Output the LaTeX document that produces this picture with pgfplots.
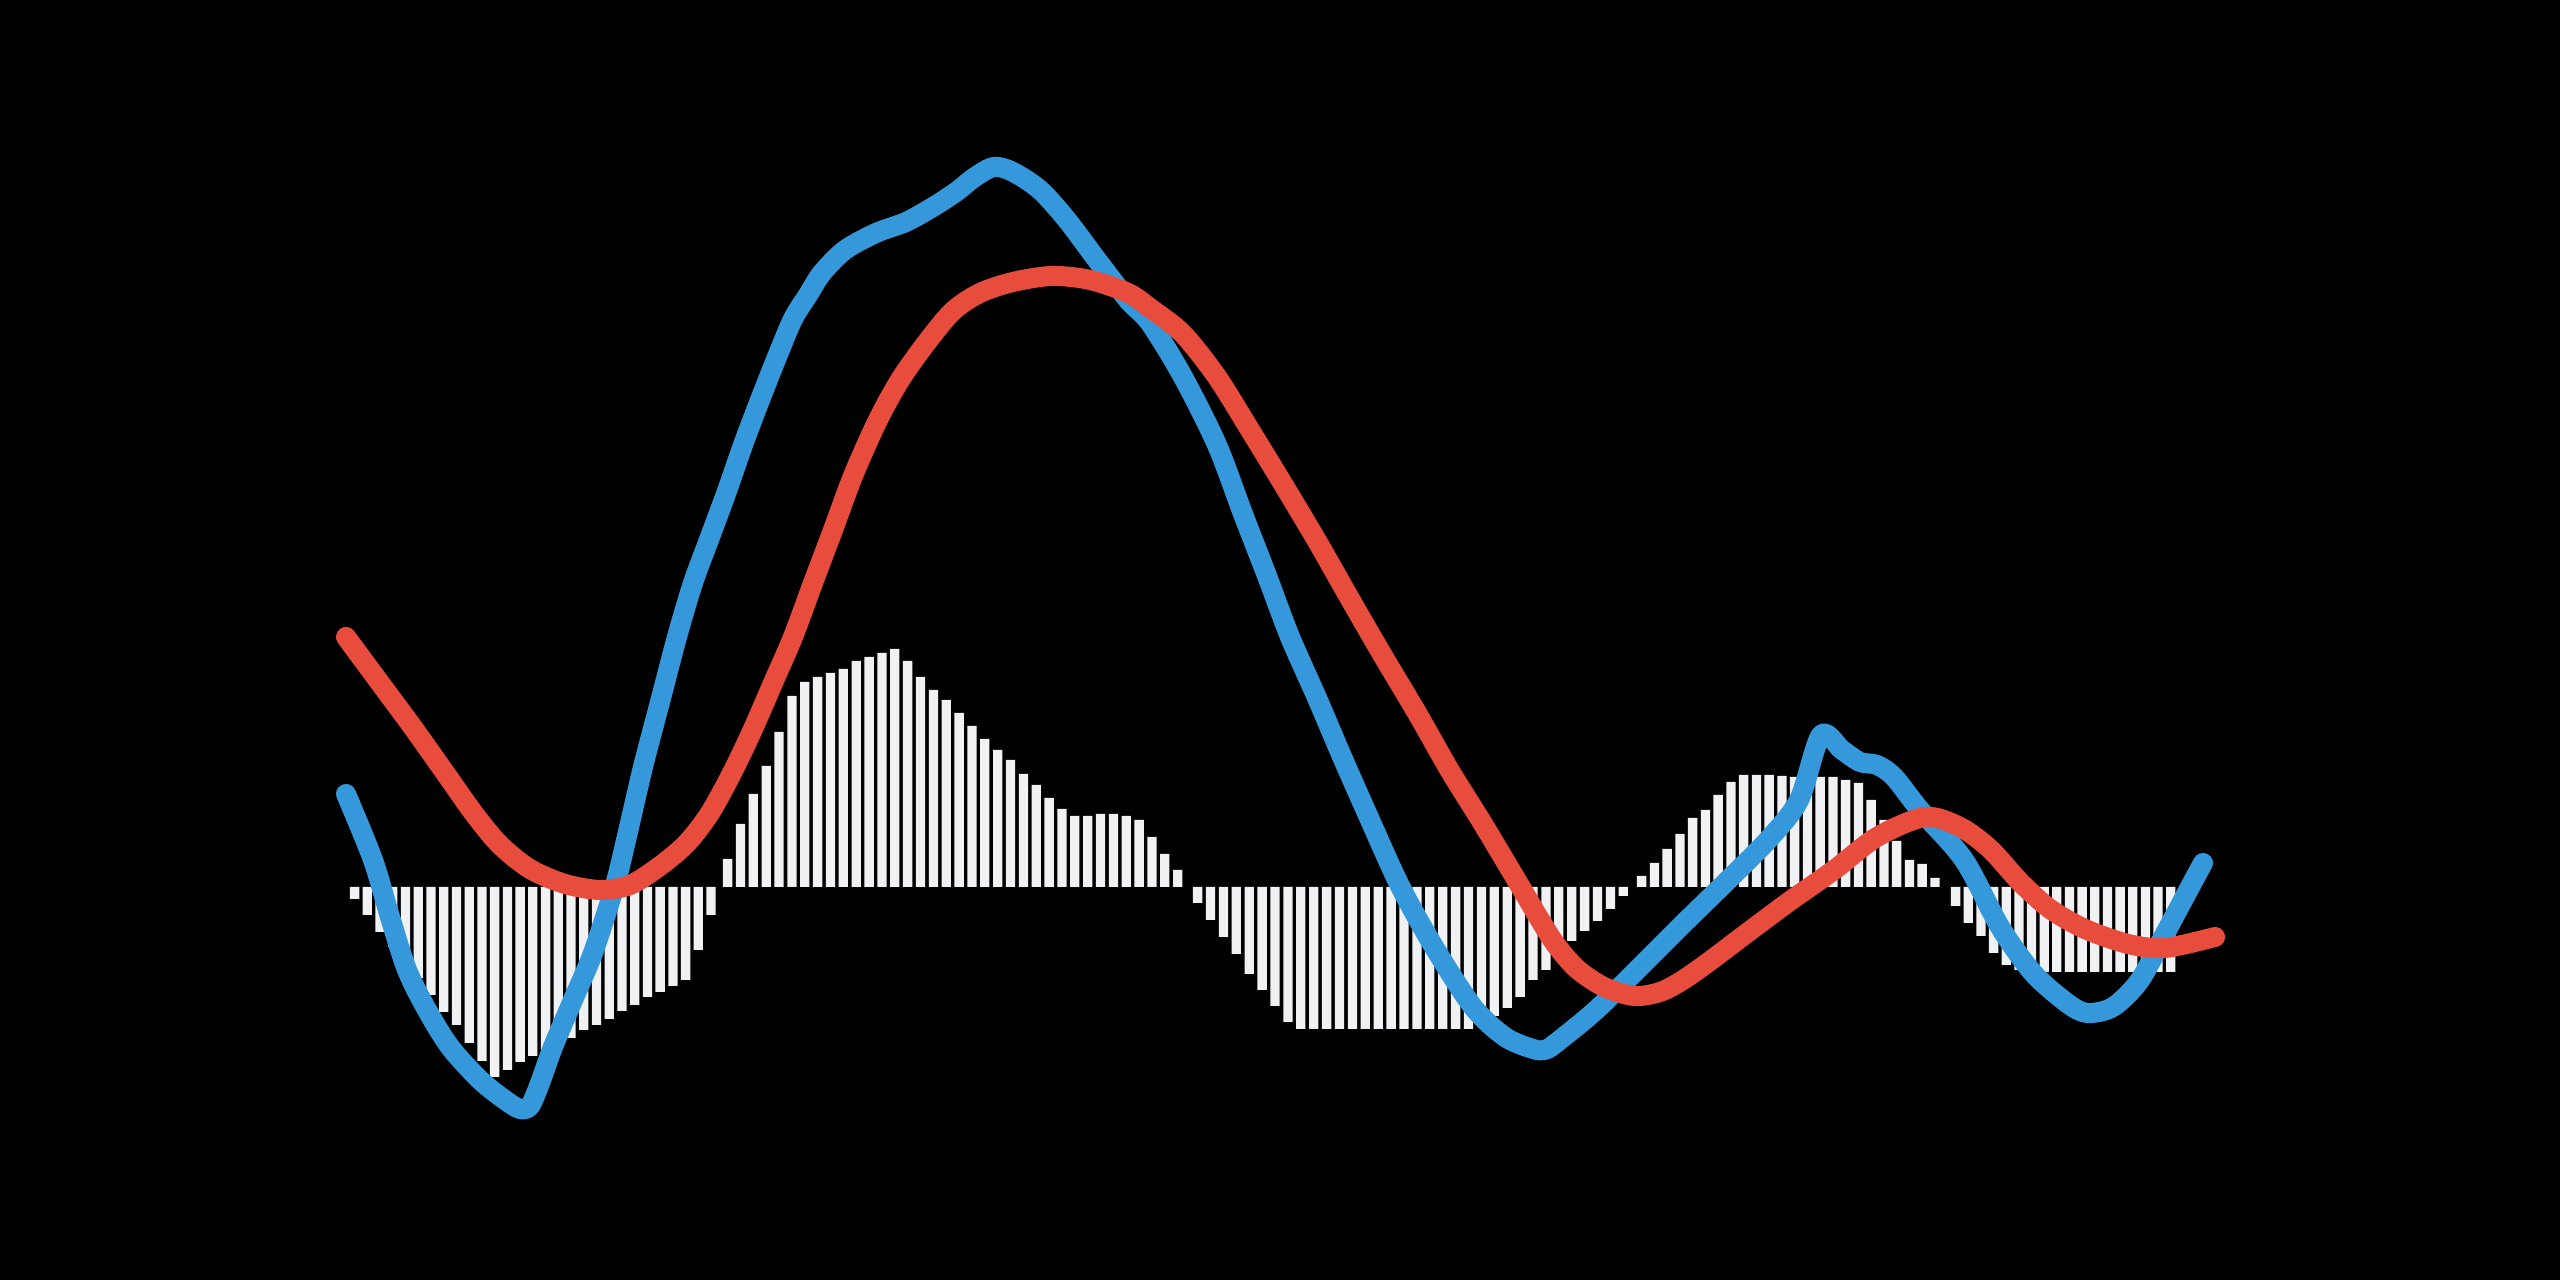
\documentclass[border=0pt]{standalone}
\usepackage{pgfplots}
\pgfplotsset{compat=1.18}
\definecolor{macdblue}{RGB}{52,152,219}
\definecolor{macdred}{RGB}{231,76,60}
\definecolor{histbar}{RGB}{240,241,243}
\begin{document}
\begin{tikzpicture}
\useasboundingbox (0,0) rectangle (25.6cm,12.8cm);
\fill[black] (0,0) rectangle (25.6cm,12.8cm);
\begin{axis}[
  at={(0,0)}, anchor=south west,
  width=25.6cm, height=12.8cm,
  scale only axis,
  axis lines=none,
  xtick=\empty, ytick=\empty,
  xmin=0, xmax=2560,
  ymin=-393, ymax=887,
  clip=true]
% histogram
\addplot[ybar, bar width=9.3, bar shift=0pt, fill=histbar, draw=none] coordinates {
 (354.6,-12) (367.3,-28) (380.1,-45) (392.8,-60) (405.5,-75) (418.3,-91) (431.0,-108)
 (443.7,-125) (456.4,-138) (469.2,-156) (481.9,-174) (494.6,-190) (507.4,-183) (520.1,-175)
 (532.8,-169) (545.6,-163) (558.3,-157) (571.0,-151) (583.7,-143) (596.5,-138) (609.2,-132)
 (621.9,-124) (634.7,-118) (647.4,-110) (660.1,-105) (672.9,-99) (685.6,-93) (698.3,-63)
 (711.0,-28)
 (727.6,28) (740.5,63) (753.3,93) (766.2,121) (779.0,155) (791.9,191) (804.8,205)
 (817.6,210) (830.5,214) (843.3,218) (856.2,226) (869.1,230) (881.9,234) (894.8,238)
 (907.6,226) (920.5,210) (933.4,197) (946.2,187) (959.1,174) (971.9,161) (984.8,148)
 (997.7,137) (1010.5,127) (1023.4,113) (1036.2,102) (1049.1,89) (1062.0,78) (1074.8,71)
 (1087.7,71) (1100.5,73) (1113.4,73) (1126.3,71) (1139.1,67) (1152.0,50) (1164.8,33)
 (1177.7,17)
 (1197.6,-16) (1210.5,-33) (1223.4,-50) (1236.3,-67) (1249.2,-87) (1262.1,-103) (1275.0,-119)
 (1287.9,-135) (1300.8,-142) (1313.7,-142) (1326.6,-142) (1339.5,-142) (1352.4,-142)
 (1365.3,-142) (1378.2,-142) (1391.1,-142) (1404.0,-142) (1416.9,-142) (1429.8,-142)
 (1442.7,-142) (1455.6,-142) (1468.5,-142) (1481.4,-136) (1494.3,-129) (1507.2,-121)
 (1520.1,-110) (1533.0,-93) (1545.9,-83) (1558.8,-69) (1571.7,-54) (1584.6,-44)
 (1597.5,-34) (1610.4,-22) (1623.3,-9)
 (1641.6,11) (1654.4,24) (1667.1,38) (1679.9,53) (1692.6,69) (1705.4,77) (1718.1,92)
 (1730.9,105) (1743.6,112) (1756.4,112) (1769.1,112) (1781.9,111) (1794.6,110) (1807.4,110)
 (1820.1,110) (1832.9,110) (1845.6,107) (1858.4,104) (1871.1,87) (1883.9,67) (1896.6,46)
 (1909.4,27) (1922.1,23) (1934.9,9)
 (1955.6,-19) (1968.3,-36) (1980.9,-49) (1993.6,-66) (2006.2,-78) (2018.9,-83) (2031.5,-85)
 (2044.2,-85) (2056.8,-85) (2069.5,-85) (2082.1,-85) (2094.8,-85) (2107.4,-85) (2120.1,-85)
 (2132.7,-85) (2145.4,-85) (2158.0,-85) (2170.7,-85)
};
% MACD line
\addplot[macdblue, line width=5.7pt, line cap=round, line join=round, smooth] coordinates {
 (346,93) (373,27) (390,-30) (407,-83) (427,-123) (450,-160) (480,-193) (505,-213)
 (520,-222) (530,-219) (540,-196) (553,-160) (573,-113) (593,-66) (615,2) (627,51) (643,120)
 (660,185) (677,250) (693,304) (710,350) (727,396) (743,442) (760,487) (777,530)
 (793,568) (808,592) (822,614) (845,637) (876,654) (906,665) (933,680) (956,695)
 (975,710) (994,720) (1013,715) (1040,697) (1067,667) (1097,627) (1128,587) (1150,564)
 (1183,510) (1217,442) (1243,373) (1267,311) (1290,250) (1317,189) (1343,128) (1370,67)
 (1400,1) (1434,-60) (1473,-120) (1505,-150) (1533,-162) (1545,-163) (1556,-156)
 (1595,-124) (1638,-82) (1682,-38) (1725,4) (1768,47) (1799,87) (1821,152) (1842,137)
 (1860,125) (1877,122) (1894,110) (1920,77) (1964,27) (2000,-40) (2033,-86) (2067,-116)
 (2087,-126) (2113,-120) (2140,-93) (2167,-43) (2190,0) (2203,24)
};
% signal line
\addplot[macdred, line width=5.7pt, line cap=round, line join=round, smooth] coordinates {
 (346,250) (380,204) (414,158) (448,110) (475,72) (500,42) (530,18) (565,3) (600,-3)
 (630,2) (660,21) (687,44) (710,74) (733,116) (753,158) (773,204) (793,250) (813,304)
 (833,357) (853,411) (877,465) (900,507) (927,545) (953,576) (980,594) (1013,605)
 (1052,611) (1090,607) (1128,594) (1150,579) (1183,553) (1217,510) (1250,457) (1283,403)
 (1317,346) (1350,288) (1383,231) (1417,174) (1450,116) (1483,63) (1520,1) (1540,-33)
 (1556,-58) (1577,-82) (1604,-100) (1634,-109) (1660,-105) (1683,-93) (1710,-74)
 (1747,-46) (1790,-14) (1834,17) (1877,50) (1925,70) (1960,60) (1990,38) (2020,5)
 (2050,-22) (2085,-42) (2128,-57) (2165,-61) (2215,-50)
};
\end{axis}
\end{tikzpicture}
\end{document}
